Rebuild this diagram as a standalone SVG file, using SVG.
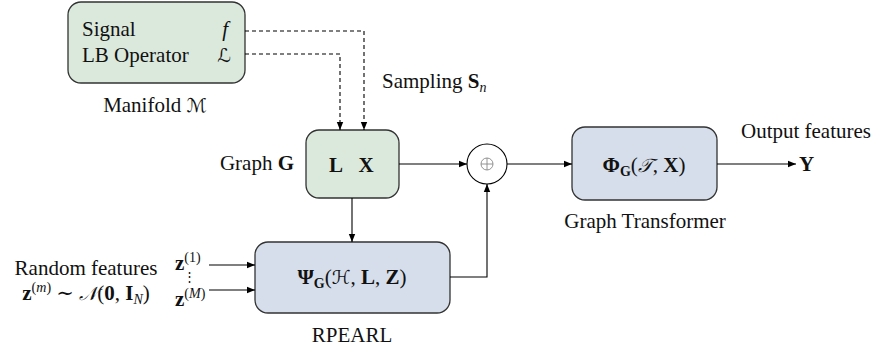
<svg xmlns="http://www.w3.org/2000/svg" width="880" height="350" viewBox="0 0 880 350">
<defs>
<marker id="ah" markerWidth="9" markerHeight="8" refX="8" refY="4" orient="auto" markerUnits="userSpaceOnUse">
<path d="M0,0.8 L8,4 L0,7.2 Z" fill="#000"/>
</marker>
<style>
text{font-family:"Liberation Serif","DejaVu Serif",serif;font-size:21px;fill:#111}
.b{font-weight:bold}
.it{font-style:italic}
.cal{font-family:"DejaVu Serif","DejaVu Sans","Noto Sans CJK SC",serif;font-style:italic;font-size:19px}
.sub{font-size:14px}
.dots{font-size:13px}
.green{fill:#dbe9dd;stroke:#333;stroke-width:1.3}
.blue{fill:#d5deea;stroke:#333;stroke-width:1.3}
.ln{fill:none;stroke:#000;stroke-width:1.1}
.dash{fill:none;stroke:#000;stroke-width:1.1;stroke-dasharray:4 3}
</style>
</defs>
<rect width="880" height="350" fill="#fff"/>

<g id="manifold">
<rect class="green" x="68" y="2" width="177" height="81" rx="13"/>
<text x="82" y="36">Signal</text>
<text x="82" y="62">LB Operator</text>
<text x="228" y="36" text-anchor="end" class="it">f</text>
<text x="231" y="62" text-anchor="end" class="cal">ℒ</text>
<text x="155" y="112" text-anchor="middle">Manifold <tspan class="cal">ℳ</tspan></text>
</g>

<g id="sampling-label">
<text x="382" y="88">Sampling <tspan class="b">S</tspan><tspan class="it sub" dy="4">n</tspan></text>
</g>

<g id="graph">
<rect class="green" x="306" y="130" width="93" height="68" rx="13"/>
<text x="336" y="172" text-anchor="middle" class="b">L</text>
<text x="366" y="172" text-anchor="middle" class="b">X</text>
<text x="294" y="170" text-anchor="end">Graph <tspan class="b">G</tspan></text>
</g>

<g id="sum">
<circle cx="487" cy="164" r="20" fill="#fff" stroke="#000" stroke-width="1.1"/>
<circle cx="487" cy="164" r="6" fill="none" stroke="#888" stroke-width="0.9"/>
<path d="M481,164 H493 M487,158 V170" stroke="#888" stroke-width="0.9"/>
</g>

<g id="transformer">
<rect class="blue" x="572" y="127" width="145" height="73" rx="13"/>
<text x="644" y="172" text-anchor="middle"><tspan class="b">Φ</tspan><tspan class="b sub" dy="4">G</tspan><tspan dy="-4">(</tspan><tspan class="cal">𝒯</tspan>, <tspan class="b">X</tspan>)</text>
<text x="645" y="228" text-anchor="middle">Graph Transformer</text>
</g>

<g id="output">
<text x="806" y="138" text-anchor="middle">Output features</text>
<text x="799" y="171" class="b">Y</text>
</g>

<g id="rpearl">
<rect class="blue" x="255" y="242" width="195" height="71" rx="13"/>
<text x="352" y="284" text-anchor="middle"><tspan class="b">Ψ</tspan><tspan class="b sub" dy="4">G</tspan><tspan dy="-4">(</tspan><tspan class="cal">ℋ</tspan>, <tspan class="b">L</tspan>, <tspan class="b">Z</tspan>)</text>
<text x="352" y="342" text-anchor="middle">RPEARL</text>
</g>

<g id="random-features">
<text x="86" y="275" text-anchor="middle">Random features</text>
<text x="86" y="300" text-anchor="middle"><tspan class="b">z</tspan><tspan class="sub" dy="-8">(</tspan><tspan class="sub it">m</tspan><tspan class="sub">)</tspan><tspan dy="8"> ∼ </tspan><tspan class="cal">𝒩</tspan>(<tspan class="b">0</tspan>, <tspan class="b">I</tspan><tspan class="sub it" dy="4">N</tspan><tspan dy="-4">)</tspan></text>
<text x="175" y="270"><tspan class="b">z</tspan><tspan class="sub" dy="-8">(1)</tspan></text>
<text x="189" y="281" text-anchor="middle" class="dots">⋮</text>
<text x="175" y="306"><tspan class="b">z</tspan><tspan class="sub" dy="-8">(</tspan><tspan class="sub it">M</tspan><tspan class="sub">)</tspan></text>
</g>

<g id="connectors">
<path class="dash" d="M245,31 H364 V130" marker-end="url(#ah)"/>
<path class="dash" d="M245,54 H340 V130" marker-end="url(#ah)"/>
<path class="ln" d="M399,164 H467" marker-end="url(#ah)"/>
<path class="ln" d="M507,164 H572" marker-end="url(#ah)"/>
<path class="ln" d="M717,164 H796" marker-end="url(#ah)"/>
<path class="ln" d="M352,198 V242" marker-end="url(#ah)"/>
<path class="ln" d="M450,277 H487 V184" marker-end="url(#ah)"/>
<path class="ln" d="M209,265 H255" marker-end="url(#ah)"/>
<path class="ln" d="M209,290 H255" marker-end="url(#ah)"/>
</g>
</svg>
